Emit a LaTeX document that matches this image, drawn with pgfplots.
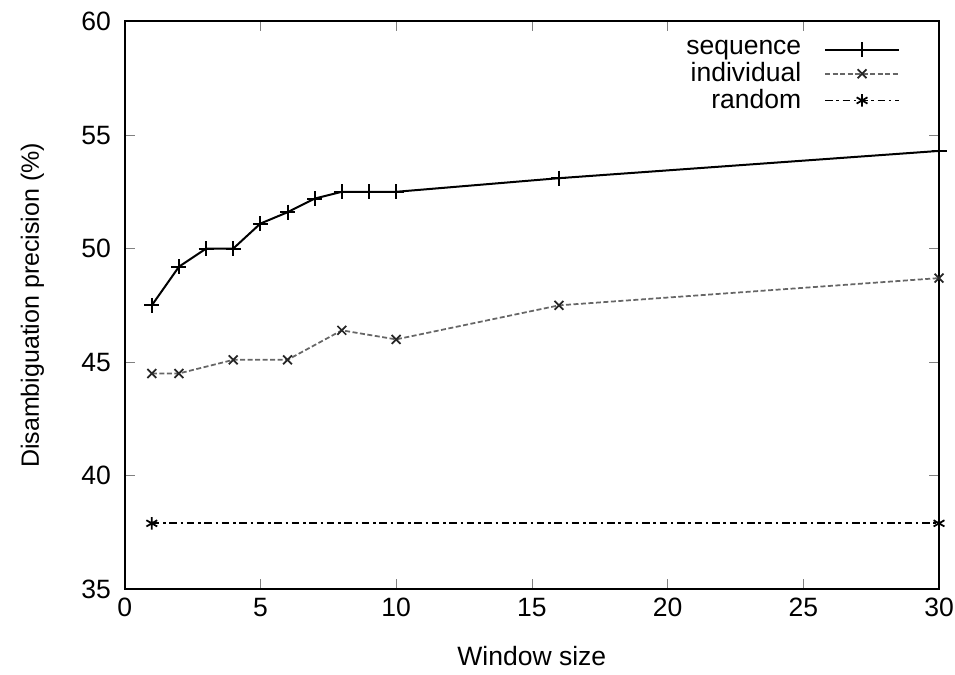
\documentclass[border={5pt 0pt 0pt 1.5pt}]{standalone}
\usepackage{pgfplots}
\pgfplotsset{compat=1.18}
\usepackage{fontspec}
\setmainfont{Liberation Sans}
\begin{document}
\begin{tikzpicture}
\begin{axis}[
    scale only axis,
    width=325.6pt, height=227pt,
    xmin=0, xmax=30, ymin=35, ymax=60,
    xtick={0,5,...,30}, ytick={35,40,...,60},
    tick align=inside,
    major tick length=4pt,
    tick label style={font=\fontsize{10.6}{12}\selectfont},
    xticklabel style={inner xsep=0.5pt},
    yticklabel style={xshift=-2pt},
    xlabel={Window size},
    ylabel={Disambiguation precision (\%)},
    xlabel style={font=\fontsize{10.6}{12}\selectfont},
    xlabel shift=5pt,
    ylabel shift=8pt,
    /pgf/number format/assume math mode=true,
    axis line style={line width=0.8pt},
    legend style={draw=none, fill=none, at={(0.962,0.985)}, anchor=north east,
        legend cell align=right, row sep=-2.5pt, font=\fontsize{10.6}{12}\selectfont},
    legend plot pos=right,
    legend image code/.code={
        \path (0cm,0cm);
        \draw[#1, mark repeat=2, mark phase=2] plot coordinates {(0.25cm,0cm) (0.77cm,0cm) (1.29cm,0cm)};
    },
]
\addplot[black, line width=0.8pt, mark=+, mark size=3pt] coordinates {
    (1,47.5) (2,49.2) (3,50.0) (4,50.0) (5,51.1) (6,51.6) (7,52.2)
    (8,52.5) (9,52.5) (10,52.5) (16,53.1) (30,54.3)
};
\addlegendentry{sequence}
\addplot[black!60, line width=0.7pt, dash pattern=on 2pt off 1pt,
    mark=x, mark size=2.5pt, mark options={solid, black!85}] coordinates {
    (1,44.5) (2,44.5) (4,45.1) (6,45.1) (8,46.4) (10,46.0) (16,47.5) (30,48.7)
};
\addlegendentry{individual}
\addplot[black, line width=0.7pt, dash pattern=on 3pt off 1.5pt on 1pt off 1.5pt,
    mark=asterisk, mark size=2.5pt, mark options={solid}] coordinates {
    (1,37.9) (30,37.9)
};
\addlegendentry{random}
\end{axis}
\end{tikzpicture}
\end{document}
